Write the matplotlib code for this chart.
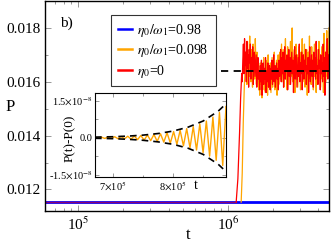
import numpy as np
import matplotlib
matplotlib.use('Agg')
import matplotlib.pyplot as plt
from matplotlib.ticker import FixedLocator

plt.rcParams['font.family'] = ['Liberation Serif', 'DejaVu Serif']
plt.rcParams['mathtext.fontset'] = 'stix'

# valores
t_min, t_max = 6.0e4, 4.7e6
p_flat = 0.01153           # nivel inicial de P
p_mean = 0.01640           # linea punteada (valor medio final)
t_dash_start = 9.0e5

# subida de la curva roja y naranja
red_rise_t = [1.13e6, 1.16e6, 1.19e6, 1.21e6, 1.23e6]
red_rise_p = [0.01153, 0.0124, 0.0141, 0.0154, 0.0163]
orange_rise_t = [1.22e6, 1.24e6, 1.26e6, 1.28e6, 1.30e6]
orange_rise_p = [0.01153, 0.0126, 0.0145, 0.0158, 0.0166]

red_noise = [
    0.0160, 0.0168, 0.0174, 0.0163, 0.0176, 0.0166, 0.0171, 0.0160, 0.0175, 0.0165,
    0.0170, 0.0158, 0.0172, 0.0167, 0.0174, 0.0161, 0.0169, 0.0164, 0.0173, 0.0159,
    0.0168, 0.0171, 0.0162, 0.0166, 0.0170, 0.0158, 0.0165, 0.0169, 0.0161,
    0.0164, 0.0157, 0.0166, 0.0160, 0.0168, 0.0155, 0.0163, 0.0167, 0.0159, 0.0165,
    0.0161, 0.0169, 0.0156, 0.0164, 0.0160, 0.0167, 0.0158, 0.0163, 0.0166, 0.0157,
    0.0165, 0.0161, 0.0168, 0.0159, 0.0164, 0.0170, 0.0160, 0.0166, 0.0158, 0.0163,
    0.0167, 0.0161, 0.0165, 0.0157, 0.0168, 0.0162,
    0.0166, 0.0172, 0.0160, 0.0169, 0.0163, 0.0171, 0.0158, 0.0167, 0.0173, 0.0161,
    0.0168, 0.0164, 0.0170, 0.0157, 0.0166, 0.0172, 0.0162, 0.0169, 0.0159, 0.0165,
    0.0171, 0.0163, 0.0168, 0.0156, 0.0167, 0.0173, 0.0161, 0.0166, 0.0170, 0.0158,
    0.0164, 0.0169, 0.0162, 0.0174, 0.0160, 0.0167, 0.0163, 0.0171, 0.0157, 0.0165,
    0.0170, 0.0161, 0.0168, 0.0164, 0.0172, 0.0159, 0.0166, 0.0163, 0.0169, 0.0156,
    0.0167, 0.0173, 0.0160, 0.0165, 0.0170, 0.0162, 0.0168, 0.0158, 0.0171, 0.0164,
    0.0169, 0.0161, 0.0175, 0.0163, 0.0166, 0.0159, 0.0172, 0.0165, 0.0168, 0.0157,
    0.0170, 0.0163, 0.0167, 0.0160, 0.0174, 0.0162, 0.0169, 0.0155, 0.0171, 0.0164,
    0.0168, 0.0176, 0.0161, 0.0170, 0.0166]

orange_noise = [
    0.0164, 0.0171, 0.0159, 0.0175, 0.0166, 0.0170, 0.0162, 0.0177, 0.0165, 0.0160,
    0.0172, 0.0167, 0.0158, 0.0174, 0.0163, 0.0169, 0.0161, 0.0176, 0.0166, 0.0159,
    0.0171, 0.0164, 0.0168, 0.0157,
    0.0162, 0.0155, 0.0167, 0.0159, 0.0164, 0.0154, 0.0166, 0.0160, 0.0169, 0.0157,
    0.0163, 0.0156, 0.0168, 0.0161, 0.0165, 0.0155, 0.0170, 0.0158, 0.0164, 0.0160,
    0.0167, 0.0156, 0.0163, 0.0169, 0.0158, 0.0165, 0.0161, 0.0171, 0.0157, 0.0166,
    0.0160, 0.0168, 0.0155, 0.0164, 0.0170, 0.0159, 0.0166,
    0.0171, 0.0161, 0.0168, 0.0174, 0.0160, 0.0166, 0.0172, 0.0158, 0.0169, 0.0163,
    0.0176, 0.0161, 0.0167, 0.0157, 0.0173, 0.0165, 0.0170, 0.0159, 0.0168, 0.0175,
    0.0162, 0.0166, 0.0180, 0.0160, 0.0169, 0.0164, 0.0172, 0.0156, 0.0167, 0.0174,
    0.0161, 0.0170, 0.0158, 0.0166, 0.0173, 0.0163, 0.0168, 0.0157, 0.0171, 0.0165,
    0.0176, 0.0160, 0.0167, 0.0162, 0.0174, 0.0158, 0.0169, 0.0164, 0.0172, 0.0155,
    0.0166, 0.0171, 0.0161, 0.0177, 0.0163, 0.0168, 0.0159, 0.0173, 0.0165, 0.0170,
    0.0157, 0.0167, 0.0174, 0.0162, 0.0169, 0.0156, 0.0172, 0.0164, 0.0168, 0.0160,
    0.0175, 0.0163, 0.0170, 0.0158, 0.0166, 0.0173, 0.0161, 0.0169, 0.0156, 0.0178,
    0.0164, 0.0171, 0.0160, 0.0167, 0.0179, 0.0162, 0.0170, 0.0165, 0.0180]

# recuadro: P(t)-P(0) en unidades de 1e-8
inset_env_t = [6.7e5, 7.0e5, 7.25e5, 7.5e5, 7.75e5, 8.0e5, 8.25e5, 8.5e5, 8.75e5, 8.88e5]
inset_env = [0.024, 0.04, 0.065, 0.105, 0.17, 0.27, 0.43, 0.68, 1.08, 1.38]
inset_osc = [0.02, -0.02, 0.02, -0.03, 0.03, -0.03, 0.04, -0.04, 0.05, -0.05,
             0.06, -0.06, 0.07, -0.08, 0.09, -0.10, 0.11, -0.12, 0.13, -0.15,
             0.16, -0.18, 0.20, -0.22, 0.25, -0.27, 0.30, -0.33, 0.37, -0.41,
             0.45, -0.50, 0.56, -0.61, 0.68, -0.75, 0.84, -0.92, 1.03, -1.13, 1.27]

labels = [r'$\eta_0/\omega_1$=0.98', r'$\eta_0/\omega_1$=0.098', r'$\eta_0$=0']

fig = plt.figure(figsize=(3.32, 2.42), dpi=100)
ax = fig.add_axes([45/332, 1-211/242, 284/332, 210/242])

# curva azul
ax.plot([t_min, t_max], [p_flat, p_flat], color='#0000ff', lw=2.0, label=labels[0])

# curva naranja
t_or_noise = np.geomspace(1.31e6, t_max, len(orange_noise))
t_or = orange_rise_t + list(t_or_noise)
p_or = orange_rise_p + orange_noise
ax.plot(t_or, p_or, color='#ffa500', lw=0.9, label=labels[1])

# curva roja (tramo plano semitransparente sobre la azul)
ax.plot([t_min, red_rise_t[0]], [p_flat, p_flat], color='#ff0000', lw=1.0, alpha=0.55)
t_red_noise = np.geomspace(1.24e6, t_max, len(red_noise))
t_red = red_rise_t + list(t_red_noise)
p_red = red_rise_p + red_noise
ax.plot(t_red, p_red, color='#ff0000', lw=0.9, label=labels[2])

ax.plot([t_dash_start, t_max], [p_mean, p_mean], color='black', lw=1.3, ls=(0, (4, 3)))

ax.set_xscale('log')
ax.set_xlim(t_min, t_max)
ax.set_ylim(0.0112, 0.0190)
ax.set_yticks([0.012, 0.014, 0.016, 0.018])
ax.set_yticklabels(['0.012', '0.014', '0.016', '0.018'])
ax.yaxis.set_minor_locator(FixedLocator([0.013, 0.015, 0.017]))
ax.set_xticks([1e5, 1e6])
ax.set_xticklabels([r'10$^5$', r'10$^6$'])
ax.tick_params(which='both', direction='in', top=True, right=True, labelsize=11)
ax.tick_params(which='major', length=4, width=0.6, color='#888888')
ax.tick_params(which='minor', length=2.5, width=0.6, color='#888888')
for s in ax.spines.values():
    s.set_linewidth(1.0)

leg = ax.legend(loc='upper left', bbox_to_anchor=(0.232, 0.935), fontsize=10,
                frameon=True, fancybox=False, edgecolor='black', handlelength=1.0,
                handletextpad=0.4, labelspacing=0.25, borderpad=0.5, borderaxespad=0)
leg.get_frame().set_linewidth(0.8)
for line in leg.get_lines():
    line.set_linewidth(1.8)
    line.set_alpha(1.0)

ax.text(0.053, 0.895, 'b)', transform=ax.transAxes, fontsize=11, va='center')
fig.text(10/332, 1-107/242, 'P', fontsize=12, ha='center', va='center')
fig.text(188/332, 1-235/242, 't', fontsize=12, ha='center', va='center')

# recuadro
ins = fig.add_axes([95/332, 1-177/242, 131/332, 84/242])
t_osc = np.linspace(6.7e5, 8.88e5, len(inset_osc))
ins.plot(t_osc, np.array(inset_osc)*1e-8, color='#ffa500', lw=1.0)
ins.plot(inset_env_t, np.array(inset_env)*1e-8, color='black', lw=1.2, ls=(0, (4, 3)))
ins.plot(inset_env_t, -np.array(inset_env)*1e-8, color='black', lw=1.2, ls=(0, (4, 3)))
ins.set_xlim(6.7e5, 8.88e5)
ins.set_ylim(-1.6e-8, 1.82e-8)
ins.set_xticks([7e5, 8e5])
ins.set_xticklabels([r'7$\times$10$^5$', r'8$\times$10$^5$'])
ins.xaxis.set_minor_locator(FixedLocator([7.5e5, 8.5e5]))
ins.set_yticks([-1.5e-8, 0, 1.5e-8])
ins.set_yticklabels([r'-1.5$\times$10$^{-8}$', '0.0', r'1.5$\times$10$^{-8}$'])
ins.yaxis.set_minor_locator(FixedLocator([-0.75e-8, 0.75e-8]))
ins.tick_params(which='both', direction='in', top=True, right=True, labelsize=7.5, pad=2)
ins.tick_params(which='major', length=3, width=0.6, color='#888888')
ins.tick_params(which='minor', length=1.8, width=0.6, color='#888888')
ins.set_ylabel('P(t)-P(0)', fontsize=9.5)
ins.yaxis.set_label_coords(-0.145, 0.46)
ins.text(0.77, -0.1, 't', transform=ins.transAxes, fontsize=10, ha='center', va='center')

fig.savefig('out.png', dpi=100)
